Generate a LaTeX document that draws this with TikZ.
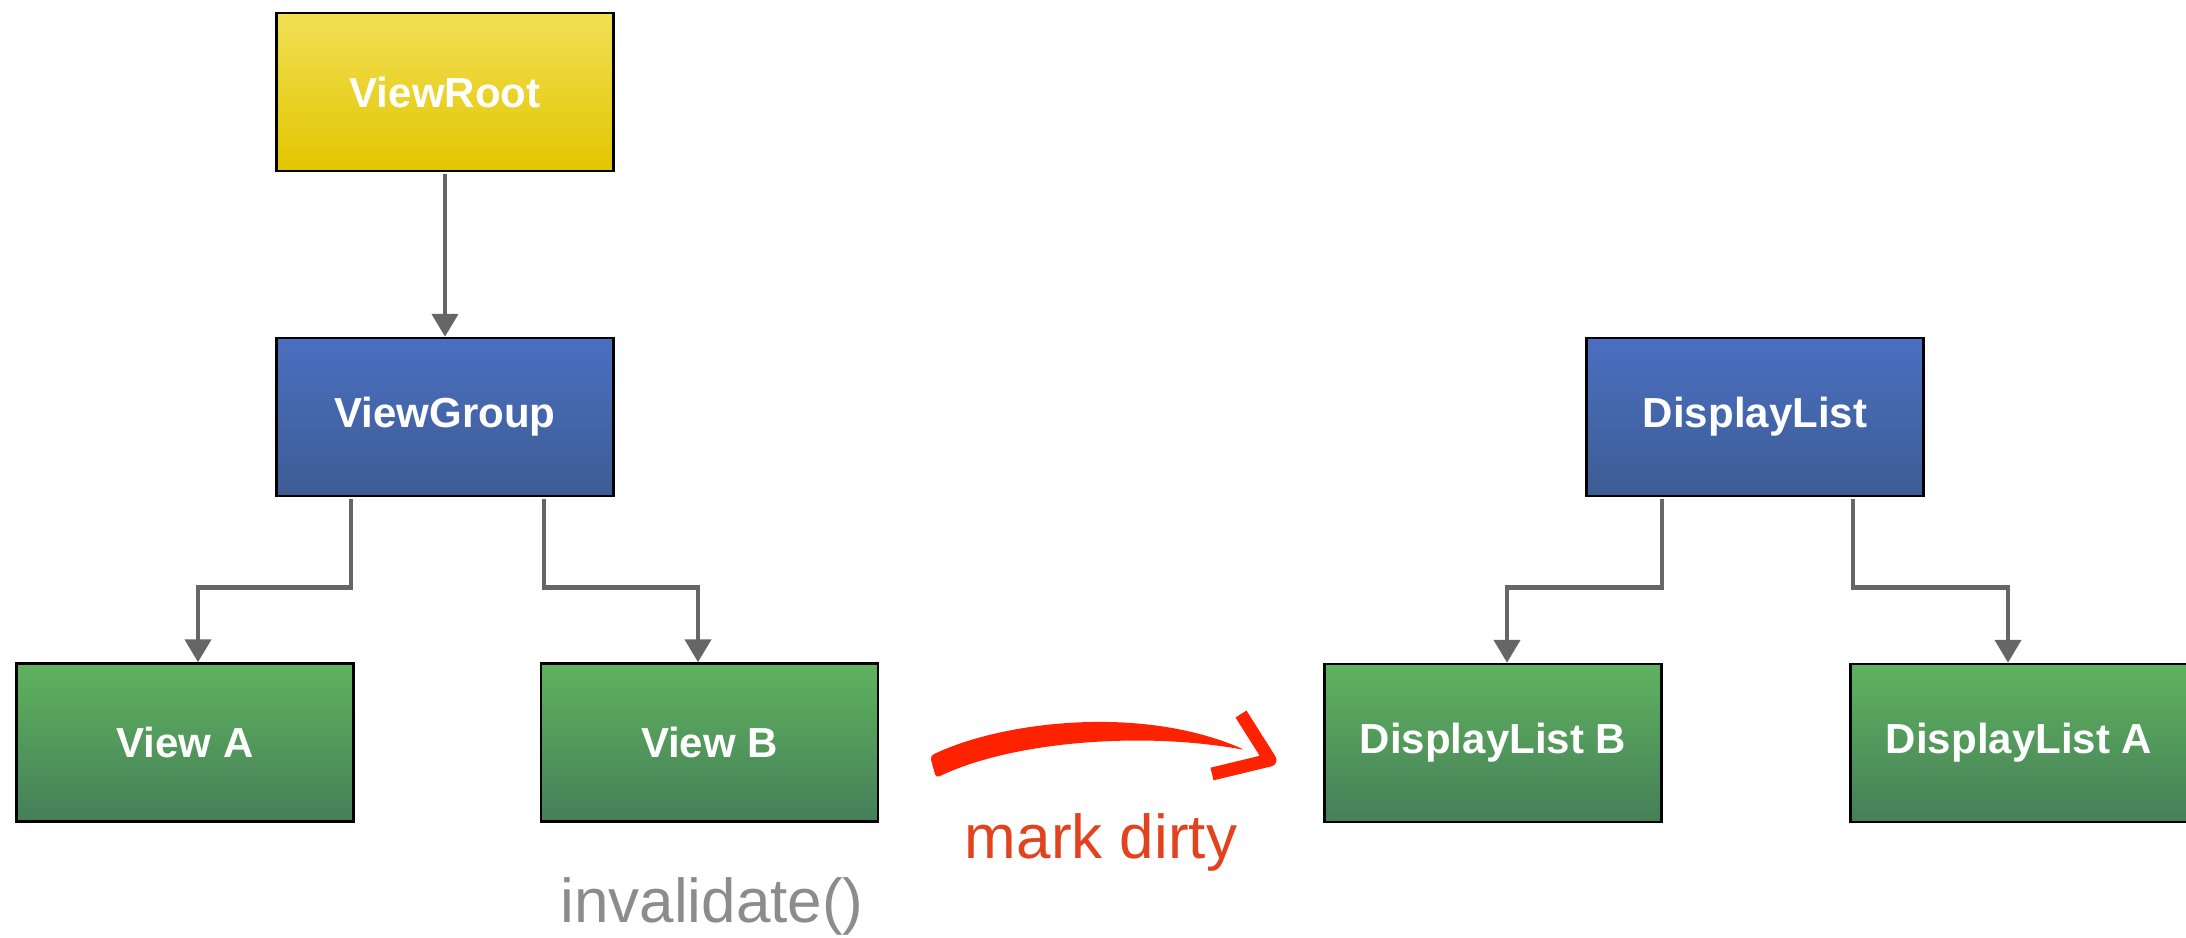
\documentclass[tikz,border=0pt]{standalone}
\usepackage{fontspec}
\setmainfont{Liberation Sans}
\usetikzlibrary{arrows.meta,calc}
\definecolor{yTop}{HTML}{F2DF55}
\definecolor{yBot}{HTML}{E2C600}
\definecolor{bTop}{HTML}{4A6FC0}
\definecolor{bBot}{HTML}{3D5C94}
\definecolor{gTop}{HTML}{5FB25F}
\definecolor{gBot}{HTML}{457F58}
\definecolor{connGray}{HTML}{666666}
\definecolor{noteGray}{HTML}{8C8C8C}
\definecolor{noteRed}{HTML}{E1431F}
\definecolor{brushRed}{HTML}{FF2200}
\tikzset{
  box/.style={draw=black, line width=2.5pt, minimum width=337pt, minimum height=158pt,
    inner sep=0pt, text=white, font=\bfseries\fontsize{42}{50}\selectfont},
  rootbox/.style={box, top color=yTop, bottom color=yBot},
  groupbox/.style={box, top color=bTop, bottom color=bBot},
  leafbox/.style={box, top color=gTop, bottom color=gBot},
  conn/.style={draw=connGray, line width=4.5pt, line join=miter,
    -{Triangle[width=26pt,length=23pt]}},
  note/.style={anchor=base, font=\fontsize{62}{72}\selectfont}
}
\begin{document}
\begin{tikzpicture}[x=1pt, y=-1pt]
\useasboundingbox (0,0) rectangle (2186,937);

% view hierarchy
\node[rootbox]  (vr) at (445,92)    {ViewRoot};
\node[groupbox] (vg) at (445,417)   {ViewGroup};
\node[leafbox]  (va) at (185,742.5) {View A};
\node[leafbox]  (vb) at (709.5,742.5) {View B};

% display list tree
\node[groupbox] (dl)  at (1755,417)  {DisplayList};
\node[leafbox]  (dlb) at (1493,743)  {DisplayList B};
\node[leafbox]  (dla) at (2019,743)  {DisplayList A};

% connectors
\draw[conn] ([yshift=-2pt]vr.south) -- (vg.north);
\draw[conn] ([xshift=-94pt,yshift=-2pt]vg.south) -- ++(0,88) -| ([xshift=13pt]va.north);
\draw[conn] ([xshift=99pt,yshift=-2pt]vg.south) -- ++(0,88) -| ([xshift=-11.5pt]vb.north);
\draw[conn] ([xshift=-93pt,yshift=-2pt]dl.south) -- ++(0,88) -| ([xshift=14pt]dlb.north);
\draw[conn] ([xshift=98pt,yshift=-2pt]dl.south) -- ++(0,88) -| ([xshift=-11pt]dla.north);

% labels
\node[note, text=noteGray] (inv) at (712,922) {invalidate()};
\node[note, text=noteRed]  (md)  at (1101,858) {mark dirty};

% brush-stroke arrow
\fill[brushRed, rounded corners=4pt]
  (930,756) .. controls (1000,722) and (1140,704) .. (1245,750)
  .. controls (1140,731) and (1010,742) .. (936,778) -- cycle;
\draw[brushRed, line width=13pt, line cap=butt, line join=round]
  (1241,714) -- (1270,760) -- (1212,774);
\end{tikzpicture}
\end{document}
